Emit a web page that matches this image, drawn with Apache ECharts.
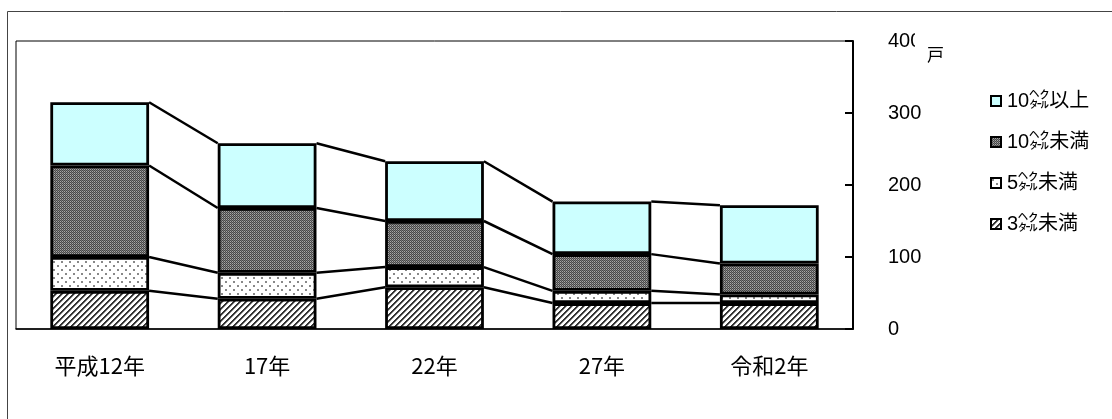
<!DOCTYPE html>
<html>
<head>
<meta charset="utf-8">
<script src="https://cdn.jsdelivr.net/npm/echarts@6/dist/echarts.min.js"></script>
<style>html,body{margin:0;padding:0;background:#fff;}#c{width:1112px;height:419px;}</style>
</head>
<body>
<div id="c"></div>
<script>
var categories = ['平成12年', '17年', '22年', '27年', '令和2年'];
var seriesNames = ['3㌶未満', '5㌶未満', '10㌶未満', '10㌶以上'];
var under3 = [53, 42, 58, 36, 36];
var under5 = [47, 36, 28, 17, 12];
var under10 = [127, 90, 64, 51, 43];
var over10 = [88, 90, 83, 73, 81];
var yTicks = [0, 100, 200, 300, 400];
var unitLabel = '戸';

function makeTile(size, fn) {
  var c = document.createElement('canvas');
  c.width = size; c.height = size;
  var ctx = c.getContext('2d');
  for (var y = 0; y < size; y++) {
    for (var x = 0; x < size; x++) {
      ctx.fillStyle = fn(x, y);
      ctx.fillRect(x, y, 1, 1);
    }
  }
  return c;
}
var hatch = makeTile(6, function (x, y) {
  var k = (x + y) % 6;
  return k < 2 ? '#333' : (k === 2 ? '#999' : '#fff');
});
var dots = makeTile(8, function (x, y) {
  if ((x === 1 || x === 2) && (y === 1 || y === 2)) return '#888';
  if ((x === 5 || x === 6) && (y === 5 || y === 6)) return '#888';
  return '#fff';
});
var dense = makeTile(4, function (x, y) {
  if ((x + y) % 2 === 0) return '#474747';
  if (x % 2 === 0) return '#a8a8a8';
  return '#7a7a7a';
});

var stacks = [under3, under5, under10, over10];
var fills = [
  { image: hatch, repeat: 'repeat' },
  { image: dots, repeat: 'repeat' },
  { image: dense, repeat: 'repeat' },
  '#CCFFFF'
];

var cum = [];
var run = categories.map(function () { return 0; });
stacks.forEach(function (arr) {
  run = run.map(function (v, i) { return v + arr[i]; });
  cum.push(run.slice());
});
var linkData = [];
cum.forEach(function (lvl) {
  for (var i = 0; i < categories.length - 1; i++) {
    linkData.push([i, lvl[i], lvl[i + 1]]);
  }
});

var BAR_RATIO = 0.59;
var series = stacks.map(function (arr, k) {
  return {
    name: seriesNames[k],
    type: 'bar',
    stack: 'total',
    barCategoryGap: '41%',
    data: arr,
    itemStyle: { color: fills[k], borderColor: '#000', borderWidth: 2.8 },
    emphasis: { disabled: true }
  };
});
series.push({
  type: 'custom',
  name: 'links',
  data: linkData,
  encode: { x: 0, y: 1 },
  silent: true,
  z: 3,
  renderItem: function (params, api) {
    var i = api.value(0);
    var a = api.coord([i, api.value(1)]);
    var b = api.coord([i + 1, api.value(2)]);
    var half = api.size([1, 0])[0] * BAR_RATIO / 2;
    return {
      type: 'line',
      shape: { x1: a[0] + half, y1: a[1], x2: b[0] - half, y2: b[1] },
      style: { stroke: '#000', lineWidth: 2.5 }
    };
  }
});

var chart = echarts.init(document.getElementById('c'), null, { renderer: 'canvas' });
chart.setOption({
  animation: false,
  backgroundColor: '#fff',
  grid: { left: 16, right: 259, top: 41, bottom: 90, show: true, borderColor: '#000', borderWidth: 1, backgroundColor: 'transparent' },
  legend: {
    orient: 'vertical',
    left: 985,
    top: 85,
    itemWidth: 10,
    itemHeight: 10,
    itemGap: 19,
    icon: 'rect',
    selectedMode: false,
    data: [seriesNames[3], seriesNames[2], seriesNames[1], seriesNames[0]],
    textStyle: { fontSize: 20, lineHeight: 22, color: '#000', fontFamily: 'Liberation Sans, Noto Sans CJK JP', padding: [0, 0, 0, 1] }
  },
  xAxis: {
    type: 'category',
    data: categories,
    axisLine: { lineStyle: { color: '#000', width: 1.5 } },
    axisTick: { inside: true, length: 5, lineStyle: { color: '#666' } },
    axisLabel: { fontSize: 22, color: '#000', margin: 26, fontFamily: 'Noto Sans CJK JP' }
  },
  yAxis: {
    type: 'value',
    position: 'right',
    min: yTicks[0],
    max: yTicks[yTicks.length - 1],
    interval: yTicks[1] - yTicks[0],
    splitLine: { show: false },
    axisLine: { show: true, lineStyle: { color: '#000', width: 2 } },
    axisTick: { show: true, inside: true, length: 8, lineStyle: { color: '#000', width: 2 } },
    axisLabel: { fontSize: 20, color: '#000', margin: 35, align: 'left', fontFamily: 'Liberation Sans' }
  },
  graphic: [
    { type: 'rect', z: -1, shape: { x: 7.5, y: 11.5, width: 1110, height: 420 }, style: { fill: 'none', stroke: '#444', lineWidth: 1 } },
    { type: 'text', z: 100, x: 915, y: 28, style: { text: unitLabel, fontSize: 17, fill: '#000', fontFamily: 'Noto Sans CJK JP', backgroundColor: '#fff', padding: [18, 4, 2, 12] } }
  ],
  series: series
});
</script>
</body>
</html>
